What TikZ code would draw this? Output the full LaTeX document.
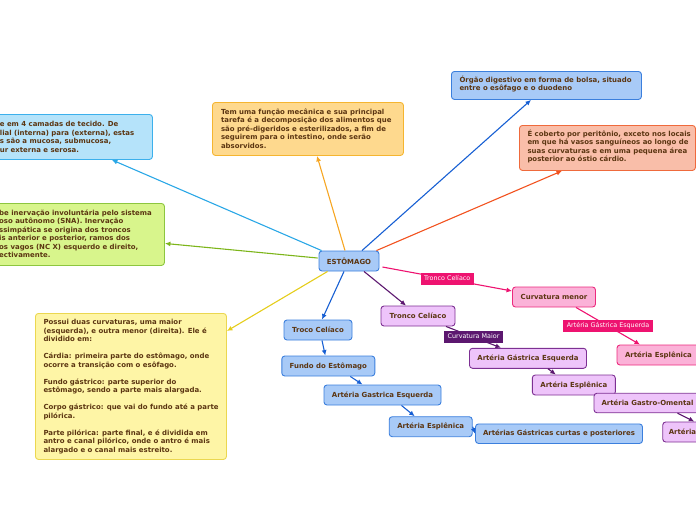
\documentclass[tikz,border=0pt]{standalone}
\usepackage{fontspec}
\setmainfont{DejaVu Sans}
\usetikzlibrary{arrows.meta,calc}
\definecolor{txt}{HTML}{5B3511}
\definecolor{tbfill}{HTML}{A8CAF7}\definecolor{tbdraw}{HTML}{3B7FDD}
\definecolor{tpfill}{HTML}{EEC4FA}\definecolor{tpdraw}{HTML}{7D3093}
\definecolor{tkfill}{HTML}{FBB2D8}\definecolor{tkdraw}{HTML}{EC2B7E}
\definecolor{cyfill}{HTML}{B5E3FA}\definecolor{cydraw}{HTML}{3CB0EC}
\definecolor{grfill}{HTML}{D8F58C}\definecolor{grdraw}{HTML}{8DC63F}
\definecolor{orfill}{HTML}{FED98E}\definecolor{ordraw}{HTML}{F5B530}
\definecolor{safill}{HTML}{F9BEA9}\definecolor{sadraw}{HTML}{EF6A3C}
\definecolor{yefill}{HTML}{FEF5A6}\definecolor{yedraw}{HTML}{EBD750}
\definecolor{lcyan}{HTML}{2AA7E6}\definecolor{lgreen}{HTML}{7DB51A}
\definecolor{lorange}{HTML}{F6A623}\definecolor{lblue}{HTML}{175FD3}
\definecolor{lred}{HTML}{F2521F}\definecolor{lyellow}{HTML}{E5CD1B}
\definecolor{lpurple}{HTML}{5C176F}\definecolor{lpink}{HTML}{EE1370}
\newcommand{\bodyfont}{\fontsize{6.95}{8.5}\selectfont\bfseries}
\begin{document}
\begin{tikzpicture}[x=1pt,y=-1pt,
  topic/.style={rounded corners=3pt, line width=0.9pt, minimum height=20pt, inner sep=0pt, font=\bodyfont, text=txt},
  bluetopic/.style={topic, fill=tbfill, draw=tbdraw},
  purpletopic/.style={topic, fill=tpfill, draw=tpdraw},
  pinktopic/.style={topic, fill=tkfill, draw=tkdraw},
  infobox/.style={rounded corners=3pt, line width=0.9pt, inner sep=0pt, anchor=north west},
  infotext/.style={anchor=base west, inner sep=0pt, font=\bodyfont, text=txt},
  conn/.style={line width=1.1pt, -{Latex[length=5.5pt,width=5pt]}},
  lab/.style={text=white, font=\fontsize{6.4}{7.5}\selectfont, inner xsep=3.5pt, inner ysep=2.5pt, text height=5pt, text depth=1.5pt}
]
\useasboundingbox (0,0) rectangle (696,520);

% info boxes
\node[infobox, fill=cyfill, draw=cydraw, minimum width=162pt, minimum height=45pt] (bl) at (-10,114) {};
\node[infotext] (blt) at (-0.3,126.5) {\begin{tabular}[t]{@{}l@{}}e em 4 camadas de tecido. De\\lial (interna) para (externa), estas\\s são a mucosa, submucosa,\\ur externa e serosa.\end{tabular}};

\node[infobox, fill=grfill, draw=grdraw, minimum width=174pt, minimum height=62pt] (gr) at (-10,203) {};
\node[infotext] (grt) at (-1,215) {\begin{tabular}[t]{@{}l@{}}be inervação involuntária pelo sistema\\oso autônomo (SNA). Inervação\\ssimpática se origina dos troncos\\is anterior e posterior, ramos dos\\os vagos (NC X) esquerdo e direito,\\ectivamente.\end{tabular}};

\node[infobox, fill=orfill, draw=ordraw, minimum width=191pt, minimum height=53pt] (or) at (212,102) {};
\node[infotext] (ort) at (220.8,114) {\begin{tabular}[t]{@{}l@{}}Tem uma função mecânica e sua principal\\tarefa é a decomposição dos alimentos que\\são pré-digeridos e esterilizados, a fim de\\seguirem para o intestino, onde serão\\absorvidos.\end{tabular}};

\node[infobox, fill=tbfill, draw=tbdraw, minimum width=190pt, minimum height=28pt] (tr) at (451,71) {};
\node[infotext] (trt) at (459.3,82.3) {\begin{tabular}[t]{@{}l@{}}Órgão digestivo em forma de bolsa, situado\\entre o esôfago e o duodeno\end{tabular}};

\node[infobox, fill=safill, draw=sadraw, minimum width=176pt, minimum height=45pt] (sa) at (519,125) {};
\node[infotext] (sat) at (527.3,136.3) {\begin{tabular}[t]{@{}l@{}}É coberto por peritônio, exceto nos locais\\em que há vasos sanguíneos ao longo de\\suas curvaturas e em uma pequena área\\posterior ao óstio cárdio.\end{tabular}};

\node[infobox, fill=yefill, draw=yedraw, minimum width=191pt, minimum height=146pt] (ye) at (35,313) {};
\node[infotext] (yet) at (43.3,324.5) {\begin{tabular}[t]{@{}l@{}}Possui duas curvaturas, uma maior\\(esquerda), e outra menor (direita). Ele é\\dividido em:\\ \\
Cárdia: primeira parte do estômago, onde\\ocorre a transição com o esôfago.\\ \\
Fundo gástrico: parte superior do\\estômago, sendo a parte mais alargada.\\ \\
Corpo gástrico: que vai do fundo até a parte\\pilórica.\\ \\
Parte pilórica: parte final, e é dividida em\\antro e canal pilórico, onde o antro é mais\\alargado e o canal mais estreito.\end{tabular}};

% topics
\node[bluetopic, minimum width=60pt] (E) at (349,261) {ESTÔMAGO};
\node[bluetopic, minimum width=68pt] (tc1) at (318,330) {Troco Celíaco};
\node[bluetopic, minimum width=93pt] (fe) at (328.3,366) {Fundo do Estômago};
\node[bluetopic, minimum width=117pt] (age1) at (382.5,395) {Artéria Gastrica Esquerda};
\node[bluetopic, minimum width=83pt] (ae1) at (430.7,426.7) {Artéria Esplênica};
\node[bluetopic, minimum width=167pt, minimum height=19.5pt] (agc) at (559,433.7) {Artérias Gástricas curtas e posteriores};

\node[purpletopic, minimum width=74pt] (tc2) at (418,316) {Tronco Celíaco};
\node[purpletopic, minimum width=117pt] (age2) at (528,358.3) {Artéria Gástrica Esquerda};
\node[purpletopic, minimum width=83pt] (ae2) at (573.8,385) {Artéria Esplênica};
\node[purpletopic, minimum width=107pt, minimum height=19.5pt] (ago) at (647.5,403) {Artéria Gastro-Omental};
\node[purpletopic, anchor=west, text width=60pt, align=left, inner xsep=6pt] (ar) at (662.3,432) {Artéria};

\node[pinktopic, minimum width=83pt] (cm) at (554,297) {Curvatura menor};
\node[pinktopic, minimum width=83pt] (ae3) at (658.5,355) {Artéria Esplênica};

% connectors from the centre
\draw[conn, lcyan] ($(E.north west)+(3,0)$) -- ($(bl.south east)+(-41,0)$);
\draw[conn, lgreen] ($(E.west)+(-1,-3)$) -- ($(gr.east)+(0,9)$);
\draw[conn, lorange] ($(E.north)+(-4,0)$) -- ($(or.south west)+(105,0)$);
\draw[conn, lblue] ($(E.north)+(13,0)$) -- ($(tr.south west)+(80,0)$);
\draw[conn, lred] ($(E.north east)+(-3,0)$) -- ($(sa.south west)+(43,0)$);
\draw[conn, lyellow] ($(E.south west)+(9,0)$) -- ($(ye.north east)+(0,18)$);
\draw[conn, lblue] ($(E.south)+(-5,0)$) -- ($(tc1.north)+(4,0)$);
\draw[conn, lpurple] ($(E.south)+(15,0)$) -- ($(tc2.north)+(-12,0)$);
\draw[conn, lpink] ($(E.east)+(3,6)$) -- node[lab, fill=lpink] {Tronco Celíaco} ($(cm.west)+(0,-6)$);

% blue chain
\draw[conn, lblue] ($(tc1.south)+(4,0)$) -- ($(fe.north)+(-3,0)$);
\draw[conn, lblue] ($(fe.south)+(22,0)$) -- ($(age1.north)+(-20,0)$);
\draw[conn, lblue] ($(age1.south)+(19,0)$) -- ($(ae1.north)+(-16,0)$);
\draw[conn, lblue] (ae1.east) -- (agc.west);

% purple chain
\draw[conn, lpurple] ($(tc2.south)+(28,0)$) -- node[lab, fill=lpurple] {Curvatura Maior} ($(age2.north)+(-27,0)$);
\draw[conn, lpurple] ($(age2.south)+(20,0)$) -- ($(ae2.north)+(-18,0)$);
\draw[conn, lpurple] ($(ago.south)+(30,0)$) -- ($(ar.north west)+(32,0)$);

% pink chain
\draw[conn, lpink] ($(cm.south)+(22,0)$) -- node[lab, fill=lpink] {Artéria Gástrica Esquerda} ($(ae3.north)+(-18.5,0)$);
\end{tikzpicture}
\end{document}
